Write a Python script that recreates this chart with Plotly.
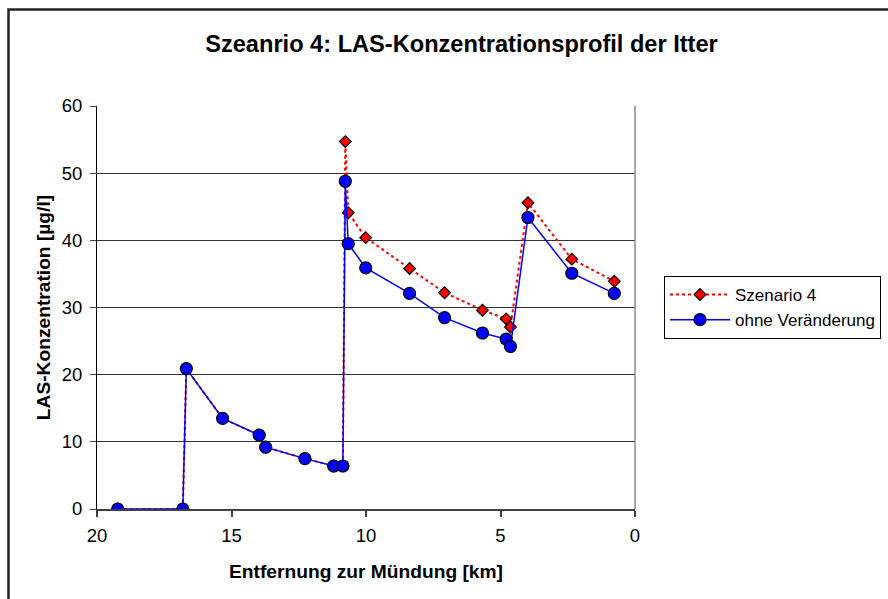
import plotly.graph_objects as go

# Data
entfernung_km = [19.23, 16.81, 16.68, 15.33, 13.97, 13.73, 12.27, 11.20, 10.86, 10.77,
                 10.66, 10.01, 8.38, 7.08, 5.67, 4.79, 4.63, 3.98, 2.35, 0.77]
szenario_4 = [0, 0, 20.9, 13.5, 11.0, 9.2, 7.5, 6.4, 6.4, 54.7,
              44.1, 40.4, 35.8, 32.2, 29.6, 28.3, 27.1, 45.6, 37.2, 33.9]
ohne_veraenderung = [0, 0, 20.9, 13.5, 11.0, 9.2, 7.5, 6.4, 6.4, 48.8,
                     39.5, 35.9, 32.1, 28.5, 26.2, 25.3, 24.2, 43.4, 35.1, 32.1]
x_ticks = [20, 15, 10, 5, 0]
y_ticks = [0, 10, 20, 30, 40, 50, 60]

FONT = "Arial, Liberation Sans, sans-serif"

fig = go.Figure()
fig.add_trace(go.Scatter(
    x=entfernung_km, y=szenario_4, name="Szenario 4", mode="lines+markers",
    line=dict(color="#FF0000", width=2, dash="dot"),
    marker=dict(symbol="diamond", size=9, color="#FF0000",
                line=dict(color="black", width=1.2)),
))
fig.add_trace(go.Scatter(
    x=entfernung_km, y=ohne_veraenderung, name="ohne Veränderung", mode="lines+markers",
    line=dict(color="#0000FF", width=1.5),
    marker=dict(symbol="circle", size=12, color="#0000FF",
                line=dict(color="black", width=1.2)),
))

fig.update_layout(
    width=888, height=599,
    margin=dict(l=97, r=253, t=106, b=90, pad=0, autoexpand=False),
    paper_bgcolor="white", plot_bgcolor="white",
    font=dict(family=FONT, size=18.5, color="black"),
    title=dict(text="<b>Szeanrio 4: LAS-Konzentrationsprofil der Itter</b>",
               font=dict(family=FONT, size=23.6, color="black"),
               x=461.5 / 888, xref="container", xanchor="center",
               y=1 - 44 / 599, yref="container", yanchor="middle"),
    showlegend=True,
    legend=dict(x=(664 - 97) / 538, y=1 - (276 - 106) / 403, xanchor="left", yanchor="top",
                bgcolor="white", bordercolor="black", borderwidth=1,
                font=dict(family=FONT, size=17, color="black"),
                itemwidth=60, tracegroupgap=0),
    shapes=[
        dict(type="rect", xref="paper", yref="paper",
             x0=(8.5 - 97) / 538, x1=1.6, y0=-0.4, y1=1 + (106 - 9.5) / 403,
             line=dict(color="#222222", width=2.5), layer="below"),
        dict(type="line", xref="paper", yref="paper", x0=1, x1=1, y0=0, y1=1,
             line=dict(color="#888888", width=1.5)),
    ],
)

fig.update_xaxes(
    range=[20, 0], tickvals=x_ticks, ticktext=[str(v) for v in x_ticks],
    showgrid=False, zeroline=False,
    showline=True, linecolor="#404040", linewidth=2,
    ticks="outside", ticklen=6, tickwidth=1.5, tickcolor="#404040",
    ticklabelstandoff=3,
    title=dict(text="<b>Entfernung zur Mündung [km]</b>",
               font=dict(family=FONT, size=19.2), standoff=19),
)
fig.update_yaxes(
    range=[0, 60], tickvals=y_ticks,
    showgrid=True, gridcolor="#333333", gridwidth=1,
    zeroline=False,
    showline=True, linecolor="black", linewidth=1,
    ticks="outside", ticklen=6, tickwidth=1, tickcolor="#404040",
    ticklabelstandoff=4,
    title=dict(text="<b>LAS-Konzentration [µg/l]</b>",
               font=dict(family=FONT, size=19.2), standoff=6),
)

fig.write_html("out.html",
               config={"displayModeBar": False},
               post_script="document.body.style.margin='0';document.body.style.overflow='hidden';")
